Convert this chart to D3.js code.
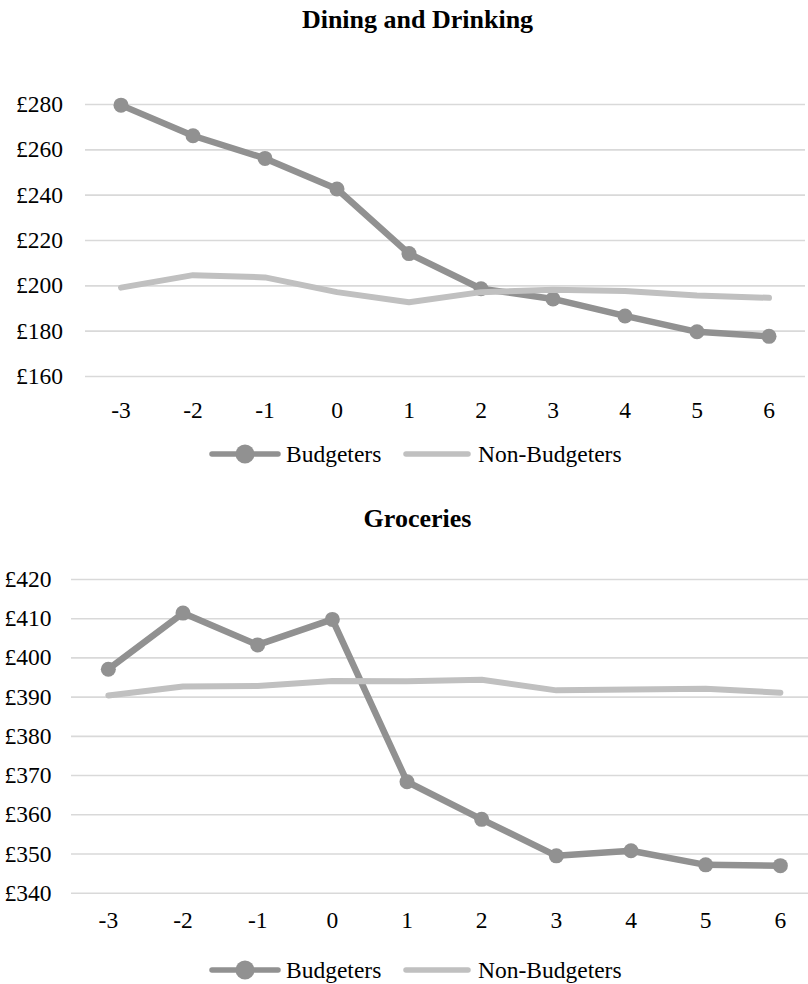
<!DOCTYPE html>
<html>
<head>
<meta charset="utf-8">
<script src="https://cdn.jsdelivr.net/npm/d3@7"></script>
<style>
  html, body { margin: 0; padding: 0; background: #ffffff; }
  svg { display: block; }
  text { font-family: "Liberation Serif", "Times New Roman", serif; fill: #000; }
</style>
</head>
<body>
<svg id="chart" width="808" height="984"></svg>
<script>
// Months relative to the start of budgeting
const periods = ["-3", "-2", "-1", "0", "1", "2", "3", "4", "5", "6"];

// Average monthly spend, Dining and Drinking (£)
const diningBudgeters    = [279.5, 266, 256, 242.5, 214, 198.5, 194, 186.5, 179.5, 177.5];
const diningNonBudgeters = [199, 204.5, 203.5, 197, 192.5, 197, 198, 197.5, 195.5, 194.5];
const diningTicks        = [160, 180, 200, 220, 240, 260, 280];

// Average monthly spend, Groceries (£)
const groceryBudgeters    = [397, 411.3, 403.2, 409.7, 368.3, 358.7, 349.4, 350.7, 347.1, 346.9];
const groceryNonBudgeters = [390.3, 392.6, 392.7, 394, 393.9, 394.3, 391.6, 391.8, 392, 391];
const groceryTicks        = [340, 350, 360, 370, 380, 390, 400, 410, 420];

const seriesNames = ["Budgeters", "Non-Budgeters"];

const DARK = "#919191";
const LIGHT = "#c0c0c0";
const GRID = "#d9d9d9";
const FONT = 23.5;
const TITLE_FONT = 26;

const svg = d3.select("#chart");

function drawPanel(cfg) {
  const g = svg.append("g");

  const x = d3.scaleBand().domain(periods).range([cfg.left, cfg.right]);
  const y = d3.scaleLinear().domain([cfg.ticks[0], cfg.ticks[cfg.ticks.length - 1]])
              .range([cfg.bottom, cfg.top]);

  // title
  g.append("text")
    .attr("x", cfg.titleX).attr("y", cfg.titleY)
    .attr("text-anchor", "middle")
    .style("font-weight", "bold")
    .style("font-size", TITLE_FONT + "px")
    .text(cfg.title);

  // horizontal gridlines + £ labels
  const yAxis = d3.axisLeft(y).tickValues(cfg.ticks)
    .tickSize(-(cfg.right - cfg.left)).tickPadding(cfg.labelGap)
    .tickFormat(d => "£" + d);
  const ya = g.append("g").attr("transform", `translate(${cfg.left},0)`).call(yAxis);
  ya.select(".domain").remove();
  ya.selectAll(".tick line").attr("stroke", GRID).attr("stroke-width", 1.6);
  ya.selectAll(".tick text").style("font-size", FONT + "px")
    .style("font-family", '"Liberation Serif", serif').attr("fill", "#000");

  // category labels
  const xAxis = d3.axisBottom(x).tickSize(0).tickPadding(0);
  const xa = g.append("g").attr("transform", `translate(0,${cfg.xLabelY})`).call(xAxis);
  xa.select(".domain").remove();
  xa.selectAll(".tick text").style("font-size", FONT + "px")
    .style("font-family", '"Liberation Serif", serif').attr("fill", "#000")
    .attr("dy", 0).attr("y", 0);

  const cx = d => x(d) + x.bandwidth() / 2;
  const line = d3.line().x((v, i) => cx(periods[i])).y(v => y(v));

  // Budgeters: line with circular markers
  g.append("path").datum(cfg.budgeters)
    .attr("d", line).attr("fill", "none")
    .attr("stroke", DARK).attr("stroke-width", 6.5)
    .attr("stroke-linejoin", "round").attr("stroke-linecap", "round");
  g.selectAll("circle.pt").data(cfg.budgeters).join("circle")
    .attr("class", "pt")
    .attr("cx", (v, i) => cx(periods[i])).attr("cy", v => y(v))
    .attr("r", 7.5).attr("fill", DARK);

  // Non-Budgeters: plain line
  g.append("path").datum(cfg.nonBudgeters)
    .attr("d", line).attr("fill", "none")
    .attr("stroke", LIGHT).attr("stroke-width", 6)
    .attr("stroke-linejoin", "round").attr("stroke-linecap", "round");

  // legend
  const lg = g.append("g").attr("transform", `translate(0,${cfg.legendY})`);
  lg.append("line").attr("x1", 212).attr("x2", 278).attr("y1", 0).attr("y2", 0)
    .attr("stroke", DARK).attr("stroke-width", 5.5).attr("stroke-linecap", "round");
  lg.append("circle").attr("cx", 245).attr("cy", 0).attr("r", 9.5).attr("fill", DARK);
  lg.append("text").attr("x", 286).attr("y", 8).style("font-size", FONT + "px").text(seriesNames[0]);
  lg.append("line").attr("x1", 406).attr("x2", 468).attr("y1", 0).attr("y2", 0)
    .attr("stroke", LIGHT).attr("stroke-width", 5.5).attr("stroke-linecap", "round");
  lg.append("text").attr("x", 478).attr("y", 8).style("font-size", FONT + "px").text(seriesNames[1]);
}

drawPanel({
  title: "Dining and Drinking", titleX: 417.5, titleY: 28,
  left: 85, right: 805, top: 104, bottom: 376, labelGap: 22,
  ticks: diningTicks, xLabelY: 418, legendY: 454,
  budgeters: diningBudgeters, nonBudgeters: diningNonBudgeters
});

drawPanel({
  title: "Groceries", titleX: 417.5, titleY: 527,
  left: 71, right: 817.7, top: 579, bottom: 892.7, labelGap: 19.5,
  ticks: groceryTicks, xLabelY: 928, legendY: 970,
  budgeters: groceryBudgeters, nonBudgeters: groceryNonBudgeters
});
</script>
</body>
</html>
